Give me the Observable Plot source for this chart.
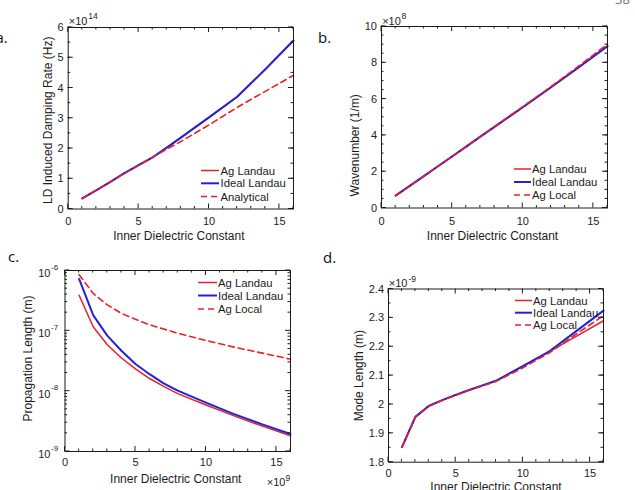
<!DOCTYPE html>
<html>
<head>
<meta charset="utf-8">
<script src="https://cdn.jsdelivr.net/npm/d3@7"></script>
<script src="https://cdn.jsdelivr.net/npm/@observablehq/plot@0.6"></script>
<style>
  body { margin: 0; background: #fff; }
  #fig { position: relative; width: 635px; height: 490px; overflow: hidden; background: #fff; }
  #fig svg { position: absolute; overflow: visible; }
</style>
</head>
<body>
<div id="fig"></div>
<script>
// Inner dielectric constant at which every curve was computed
const eps = [1, 2, 3, 4, 5, 6, 7, 8, 10, 12, 14, 16];

// (a) Landau-damping induced rate, in units of 1e14 Hz
const rateAgLandau    = [0.35, 0.62, 0.90, 1.19, 1.45, 1.71, 2.03, 2.36, 3.03, 3.71, 4.62, 5.57];
const rateIdealLandau = [0.35, 0.62, 0.90, 1.19, 1.45, 1.71, 2.03, 2.36, 3.03, 3.71, 4.62, 5.57];
const rateAnalytical  = [0.35, 0.62, 0.90, 1.18, 1.45, 1.71, 1.98, 2.23, 2.78, 3.36, 3.89, 4.42];

// (b) wavenumber, in units of 1e8 1/m
const kAgLandau    = [0.68, 1.22, 1.76, 2.30, 2.84, 3.38, 3.93, 4.47, 5.55, 6.65, 7.77, 8.92];
const kIdealLandau = [0.68, 1.22, 1.76, 2.30, 2.84, 3.38, 3.93, 4.47, 5.55, 6.65, 7.77, 8.92];
const kAgLocal     = [0.68, 1.22, 1.76, 2.30, 2.84, 3.39, 3.94, 4.49, 5.58, 6.69, 7.84, 9.03];

// (c) propagation length, in m
const lpAgLandau    = [3.89e-7, 1.17e-7, 5.89e-8, 3.55e-8, 2.34e-8, 1.62e-8, 1.20e-8, 9.1e-9, 5.9e-9, 3.9e-9, 2.63e-9, 1.82e-9];
const lpIdealLandau = [7.24e-7, 1.82e-7, 8.32e-8, 4.68e-8, 2.82e-8, 1.91e-8, 1.35e-8, 1.02e-8, 6.46e-9, 4.17e-9, 2.82e-9, 1.95e-9];
const lpAgLocal     = [8.51e-7, 4.17e-7, 2.69e-7, 1.95e-7, 1.55e-7, 1.26e-7, 1.07e-7, 9.12e-8, 6.92e-8, 5.37e-8, 4.27e-8, 3.39e-8];

// (d) mode length, in units of 1e-9 m
const lmAgLandau    = [1.852, 1.957, 1.995, 2.015, 2.033, 2.050, 2.066, 2.082, 2.132, 2.184, 2.237, 2.290];
const lmIdealLandau = [1.852, 1.957, 1.995, 2.015, 2.033, 2.050, 2.066, 2.082, 2.133, 2.185, 2.255, 2.325];
const lmAgLocal     = [1.852, 1.956, 1.994, 2.014, 2.032, 2.049, 2.064, 2.080, 2.127, 2.180, 2.245, 2.308];

// Tick values
const xTicks    = [0, 5, 10, 15];
const rateTicks = [0, 1, 2, 3, 4, 5, 6];
const kTicks    = [0, 2, 4, 6, 8, 10];
const lpTicks   = [1e-9, 1e-8, 1e-7, 1e-6];
const lmTicks   = [1.8, 1.9, 2, 2.1, 2.2, 2.3, 2.4];

// Labels
const xTitle = "Inner Dielectric Constant";
const panelTags = ["a.", "b.", "c.", "d."];

const RED = "#e8202a", BLUE = "#2222d6", INK = "#1c1c1c";
const FONT = "'Liberation Sans', Arial, Helvetica, sans-serif";

const fig = document.getElementById("fig");

function drawPanel(p) {
  const [fx0, fy0, fx1, fy1] = p.frame;
  const xMinor = d3.range(0, 17).filter(v => v % 5 !== 0);
  const marks = [];

  // curves
  for (const s of p.series) {
    marks.push(Plot.line(eps, {
      x: d => d, y: (d, i) => s.values[i],
      stroke: s.color, strokeWidth: s.width, strokeDasharray: s.dash
    }));
  }

  // box
  marks.push(Plot.frame({stroke: INK, strokeWidth: 1}));

  // tick labels
  marks.push(Plot.axisX(xTicks, {anchor: "bottom", tickSize: 0, tickPadding: p.xPad, label: null,
    fill: INK, fontSize: 11, tickFormat: d => String(d)}));
  if (p.log) {
    marks.push(Plot.text(p.yMajor, {y: d => d, frameAnchor: "left", text: () => "10",
      textAnchor: "end", dx: -14.5, dy: 3, fontSize: 11, fill: INK}));
    marks.push(Plot.text(p.yMajor, {y: d => d, frameAnchor: "left",
      text: d => String(Math.round(Math.log10(d))),
      textAnchor: "start", dx: -14, dy: -3.5, fontSize: 8, fill: INK}));
  } else {
    marks.push(Plot.axisY(p.yMajor, {anchor: "left", tickSize: 0, tickPadding: 4.5, label: null,
      fill: INK, fontSize: 11, tickFormat: d => String(d)}));
  }

  // axis titles
  marks.push(Plot.text([xTitle], {text: d => d, frameAnchor: "bottom", lineAnchor: "bottom",
    dx: p.xTitleDx, dy: p.xTitleDy, fontSize: 12, fill: INK}));
  marks.push(Plot.text([p.yTitle], {text: d => d, frameAnchor: "left", rotate: -90,
    textAnchor: "middle", lineAnchor: "middle", dx: p.yTitleDx, dy: p.yTitleDy, fontSize: 12, fill: INK}));

  // exponent multiplier
  if (p.mult) {
    const m = p.mult;
    marks.push(Plot.text(["×10"], {text: d => d, frameAnchor: m.anchor, lineAnchor: "bottom",
      textAnchor: m.textAnchor, dx: m.dx, dy: m.dy, fontSize: 11, fill: INK}));
    marks.push(Plot.text([m.power], {text: d => d, frameAnchor: m.anchor, lineAnchor: "bottom",
      textAnchor: "start", dx: m.pdx, dy: m.pdy, fontSize: 8.5, fill: INK}));
  }

  const svg = Plot.plot({
    width: p.width, height: p.height,
    marginLeft: fx0 - p.left, marginTop: fy0 - p.top,
    marginRight: p.left + p.width - fx1, marginBottom: p.top + p.height - fy1,
    x: {domain: [0, 16], axis: null},
    y: {domain: p.yDomain, type: p.log ? "log" : "linear", axis: null},
    style: {fontFamily: FONT, background: "transparent", color: INK, overflow: "visible"},
    marks
  });
  svg.style.left = p.left + "px";
  svg.style.top = p.top + "px";

  // inward ticks on all four sides, placed with the plot's own scales
  const sx = svg.scale("x"), sy = svg.scale("y");
  const lx0 = fx0 - p.left, lx1 = fx1 - p.left, ly0 = fy0 - p.top, ly1 = fy1 - p.top;
  const tg = d3.select(svg).append("g").attr("stroke", INK).attr("stroke-width", 1);
  const xt = [...xMinor.map(v => [v, 2.5]), ...xTicks.map(v => [v, 5])];
  for (const [v, len] of xt) {
    const X = sx.apply(v);
    tg.append("line").attr("x1", X).attr("x2", X).attr("y1", ly1).attr("y2", ly1 - len);
    tg.append("line").attr("x1", X).attr("x2", X).attr("y1", ly0).attr("y2", ly0 + len);
  }
  const yt = [...p.yMinor.map(v => [v, 2.5]), ...p.yMajor.map(v => [v, 5])];
  for (const [v, len] of yt) {
    const Y = sy.apply(v);
    tg.append("line").attr("y1", Y).attr("y2", Y).attr("x1", lx0).attr("x2", lx0 + len);
    tg.append("line").attr("y1", Y).attr("y2", Y).attr("x1", lx1).attr("x2", lx1 - len);
  }

  // legend (no box)
  const g = d3.select(svg).append("g")
    .attr("font-family", FONT).attr("font-size", 11.3).attr("fill", INK)
    .attr("text-anchor", "start");
  p.series.forEach((s, i) => {
    const y = p.legend.rows[i] - p.top;
    g.append("line")
      .attr("x1", p.legend.x0 - p.left).attr("x2", p.legend.x1 - p.left)
      .attr("y1", y).attr("y2", y)
      .attr("stroke", s.color).attr("stroke-width", s.width)
      .attr("stroke-dasharray", s.dash || null);
    g.append("text")
      .attr("x", p.legend.tx - p.left).attr("y", y).attr("dy", "0.36em")
      .attr("text-anchor", "start")
      .text(s.name);
  });
  fig.appendChild(svg);
}

const halfSteps = (a, b) => d3.range(a, b + 0.001, 0.5);
const logMinor = lpTicks.slice(0, -1).flatMap(d => d3.range(2, 10).map(k => k * d));

drawPanel({
  left: 0, top: 0, width: 310, height: 240,
  frame: [67.7, 27, 293, 208.5],
  yDomain: [0, 6], yMajor: rateTicks, yMinor: halfSteps(0, 6), xPad: 8.5,
  yTitle: "LD Induced Damping Rate (Hz)", yTitleDx: -20, yTitleDy: 2,
  xTitleDx: -2, xTitleDy: 30.5,
  mult: {anchor: "top-left", textAnchor: "start", dx: 0.6, dy: -3, power: "14", pdx: 20, pdy: -8.5},
  series: [
    {name: "Ag Landau", values: rateAgLandau, color: RED, width: 1.5},
    {name: "Ideal Landau", values: rateIdealLandau, color: BLUE, width: 2},
    {name: "Analytical", values: rateAnalytical, color: RED, width: 1.6, dash: "6,4"}
  ],
  legend: {x0: 201, x1: 219, tx: 220.5, rows: [170.5, 183.3, 196.5]}
});

drawPanel({
  left: 310, top: 0, width: 325, height: 240,
  frame: [381, 26, 607, 207.5],
  yDomain: [0, 10], yMajor: kTicks, yMinor: halfSteps(0, 10), xPad: 9,
  yTitle: "Wavenumber (1/m)", yTitleDx: -26, yTitleDy: 28,
  xTitleDx: -2, xTitleDy: 32,
  mult: {anchor: "top-left", textAnchor: "start", dx: 0.7, dy: -2, power: "8", pdx: 20, pdy: -7.5},
  series: [
    {name: "Ag Landau", values: kAgLandau, color: RED, width: 1.5},
    {name: "Ideal Landau", values: kIdealLandau, color: BLUE, width: 2},
    {name: "Ag Local", values: kAgLocal, color: RED, width: 1.6, dash: "6,4"}
  ],
  legend: {x0: 514, x1: 531, tx: 532, rows: [169, 182, 195]}
});

drawPanel({
  left: 0, top: 240, width: 310, height: 250,
  frame: [64.5, 270, 290, 451],
  log: true, yDomain: [1e-9, 1e-6], yMajor: lpTicks, yMinor: logMinor, xPad: 7,
  yTitle: "Propagation Length (m)", yTitleDx: -36.5, yTitleDy: -2.5,
  xTitleDx: -2, xTitleDy: 31.5,
  mult: {anchor: "bottom-right", textAnchor: "end", dx: -5, dy: 34.5, power: "9", pdx: -5, pdy: 29},
  series: [
    {name: "Ag Landau", values: lpAgLandau, color: RED, width: 1.5},
    {name: "Ideal Landau", values: lpIdealLandau, color: BLUE, width: 2},
    {name: "Ag Local", values: lpAgLocal, color: RED, width: 1.6, dash: "6,4"}
  ],
  legend: {x0: 198, x1: 217, tx: 218, rows: [282.5, 295.5, 309]}
});

drawPanel({
  left: 310, top: 240, width: 325, height: 250,
  frame: [388, 288.5, 603, 461.7],
  yDomain: [1.8, 2.4], yMajor: lmTicks, yMinor: d3.range(1.8, 2.401, 0.05), xPad: 6.5,
  yTitle: "Mode Length (m)", yTitleDx: -29, yTitleDy: 0,
  xTitleDx: 0, xTitleDy: 29,
  mult: {anchor: "top-left", textAnchor: "start", dx: 0.3, dy: -2.5, power: "-9", pdx: 20, pdy: -7},
  series: [
    {name: "Ag Landau", values: lmAgLandau, color: RED, width: 1.5},
    {name: "Ideal Landau", values: lmIdealLandau, color: BLUE, width: 2},
    {name: "Ag Local", values: lmAgLocal, color: RED, width: 1.6, dash: "6,4"}
  ],
  legend: {x0: 515, x1: 532, tx: 533, rows: [300.5, 312.7, 325]}
});

// panel tags and page number
const over = d3.select(fig).append("svg")
  .attr("width", 635).attr("height", 490)
  .style("left", "0px").style("top", "0px")
  .attr("font-family", "'Open Sans', 'Liberation Sans', sans-serif").attr("font-size", 15).attr("fill", "#111");
const tagPos = [[-4.5, 43.3], [318, 42.7], [8, 262], [323, 263]];
panelTags.forEach((t, i) => over.append("text").attr("x", tagPos[i][0]).attr("y", tagPos[i][1]).text(t));
over.append("text").attr("x", 615).attr("y", 4).attr("font-size", 13).attr("fill", "#777").text("38");
</script>
</body>
</html>
